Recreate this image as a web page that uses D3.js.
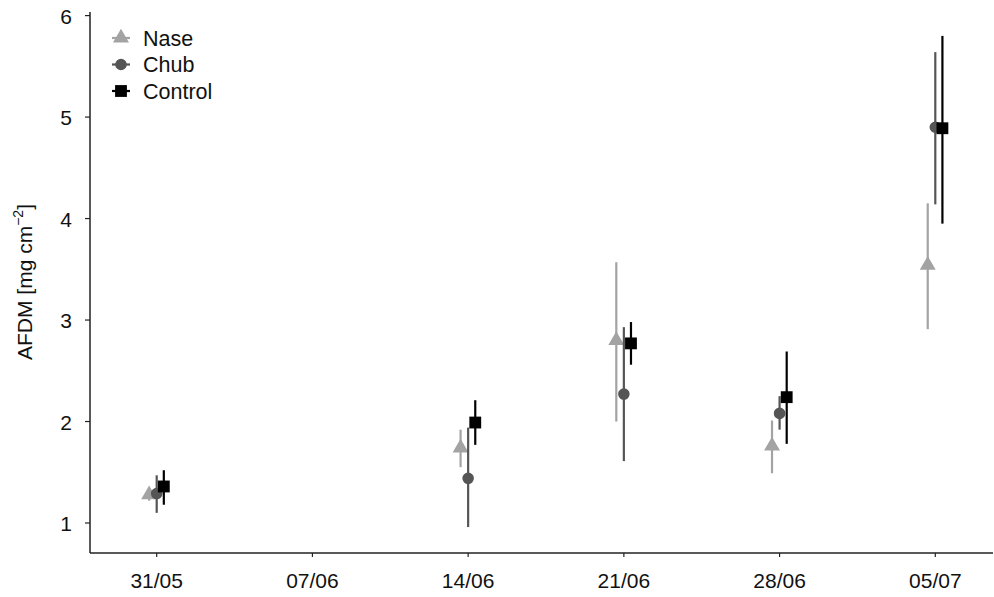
<!DOCTYPE html>
<html>
<head>
<meta charset="utf-8">
<script src="https://cdn.jsdelivr.net/npm/d3@7"></script>
<style>
  html, body { margin: 0; padding: 0; background: #fff; }
  svg { display: block; font-family: "Liberation Sans", Arial, Helvetica, sans-serif; }
</style>
</head>
<body>
<svg id="chart" width="994" height="597"></svg>
<script>
// Sampling dates (dd/mm) and tick labels
const tickLabels = ["31/05", "07/06", "14/06", "21/06", "28/06", "05/07"];
const sampleDates = ["31/05", "14/06", "21/06", "28/06", "05/07"];
const yTicks = [1, 2, 3, 4, 5, 6];

// Treatments
const treatments = ["Nase", "Chub", "Control"];

// AFDM means and interval bounds [mg cm^-2], one entry per sampling date
const naseMean  = [1.28, 1.74, 2.80, 1.76, 3.54];
const naseLow   = [1.22, 1.55, 2.00, 1.49, 2.91];
const naseHigh  = [1.34, 1.92, 3.57, 2.01, 4.15];

const chubMean  = [1.29, 1.44, 2.27, 2.08, 4.90];
const chubLow   = [1.10, 0.96, 1.61, 1.92, 4.14];
const chubHigh  = [1.47, 1.94, 2.93, 2.25, 5.64];

const controlMean = [1.36, 1.99, 2.77, 2.24, 4.89];
const controlLow  = [1.18, 1.77, 2.56, 1.78, 3.95];
const controlHigh = [1.52, 2.21, 2.98, 2.69, 5.80];

const parseDay = s => {
  const [d, m] = s.split("/").map(Number);
  return new Date(Date.UTC(2016, m - 1, d));
};

const series = [
  { name: "Nase",    color: "#a3a3a3", shape: d3.symbolTriangle, size: 110, dodge: -0.34, mean: naseMean, low: naseLow, high: naseHigh },
  { name: "Chub",    color: "#555555", shape: d3.symbolCircle,   size: 105, dodge: 0,     mean: chubMean, low: chubLow, high: chubHigh },
  { name: "Control", color: "#000000", shape: d3.symbolSquare,   size: 140, dodge: 0.32,  mean: controlMean, low: controlLow, high: controlHigh }
];

const svg = d3.select("#chart");

const x = d3.scaleUtc()
  .domain([parseDay("31/05"), parseDay("05/07")])
  .range([156.7, 935.3]);

const y = d3.scaleLinear()
  .domain([1, 6])
  .range([523, 15.6]);

const axisX0 = 90, axisY0 = 553;
const dayMs = 864e5;

// Axes
const gx = svg.append("g").attr("transform", `translate(0,${axisY0})`);
gx.append("line")
  .attr("x1", axisX0).attr("x2", 993)
  .attr("stroke", "#222").attr("stroke-width", 1.3);
gx.selectAll("g.tick")
  .data(tickLabels)
  .join("g")
  .attr("transform", d => `translate(${x(parseDay(d))},0)`)
  .call(g => g.append("line").attr("y2", 4).attr("stroke", "#222").attr("stroke-width", 1.2))
  .call(g => g.append("text")
    .attr("y", 35)
    .attr("text-anchor", "middle")
    .attr("font-size", 21)
    .attr("fill", "#111")
    .text(d => d));

const gy = svg.append("g").attr("transform", `translate(${axisX0},0)`);
gy.append("line")
  .attr("y1", 12).attr("y2", axisY0)
  .attr("stroke", "#222").attr("stroke-width", 1.5);
gy.selectAll("g.tick")
  .data(yTicks)
  .join("g")
  .attr("transform", d => `translate(0,${y(d)})`)
  .call(g => g.append("line").attr("x2", -5).attr("stroke", "#222").attr("stroke-width", 1.2))
  .call(g => g.append("text")
    .attr("x", -18)
    .attr("dy", "0.38em")
    .attr("text-anchor", "end")
    .attr("font-size", 21)
    .attr("fill", "#111")
    .text(d => d));

// Y axis title with superscript
const title = svg.append("text")
  .attr("transform", "translate(32,282) rotate(-90)")
  .attr("text-anchor", "middle")
  .attr("font-size", 21)
  .attr("fill", "#111");
title.append("tspan").text("AFDM [mg cm");
title.append("tspan").attr("font-size", 14).attr("dy", -9).text("\u22122");
title.append("tspan").attr("dy", 9).text("]");

// Error bars and points for each treatment
series.forEach(s => {
  const rows = sampleDates.map((d, i) => ({
    t: new Date(parseDay(d).getTime() + s.dodge * dayMs),
    mean: s.mean[i], low: s.low[i], high: s.high[i]
  }));
  const g = svg.append("g").attr("class", "series-" + s.name);
  g.selectAll("line")
    .data(rows)
    .join("line")
    .attr("x1", d => x(d.t)).attr("x2", d => x(d.t))
    .attr("y1", d => y(d.low)).attr("y2", d => y(d.high))
    .attr("stroke", s.color).attr("stroke-width", 2.2);
  g.selectAll("path")
    .data(rows)
    .join("path")
    .attr("transform", d => `translate(${x(d.t)},${y(d.mean)})`)
    .attr("d", d3.symbol(s.shape, s.size))
    .attr("fill", s.color);
});

// Legend
const legend = svg.append("g").attr("transform", "translate(121,38)");
series.forEach((s, i) => {
  const row = legend.append("g").attr("transform", `translate(0,${i * 26.5})`);
  row.append("line").attr("x1", -9).attr("x2", 9)
    .attr("stroke", s.color).attr("stroke-width", 2.2);
  row.append("path").attr("d", d3.symbol(s.shape, s.size)).attr("fill", s.color);
  row.append("text")
    .attr("x", 22).attr("dy", "0.36em")
    .attr("font-size", 21.5)
    .attr("fill", "#111")
    .text(s.name);
});
</script>
</body>
</html>
